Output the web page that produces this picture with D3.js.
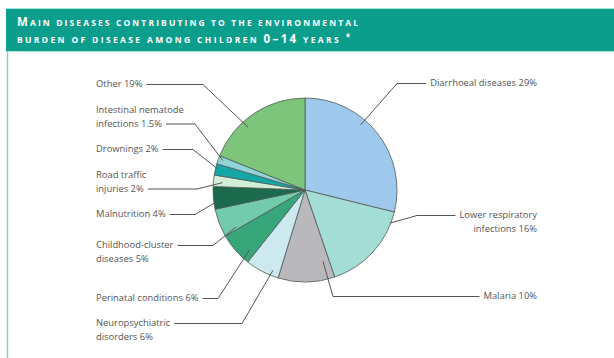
<!DOCTYPE html>
<html>
<head>
<meta charset="utf-8">
<script src="https://cdn.jsdelivr.net/npm/d3@7"></script>
<style>
  body { margin: 0; background: #fff; }
  svg { display: block; }
</style>
</head>
<body>
<div id="chart"></div>
<script>
// chart data, clockwise from 12 o'clock
const diseases = ["Diarrhoeal diseases", "Lower respiratory infections", "Malaria",
  "Neuropsychiatric disorders", "Perinatal conditions", "Childhood-cluster diseases",
  "Malnutrition", "Road traffic injuries", "Drownings",
  "Intestinal nematode infections", "Other"];
const shares = [29, 16, 10, 6, 6, 5, 4, 2, 2, 1.5, 19];
const sliceColors = ["#9ec9ec", "#a4dcd6", "#b9b9bd", "#cde9f0", "#37a67b", "#74caad",
  "#1c6a4e", "#d3eed7", "#13a8a5", "#90d4d9", "#7dc57b"];

// label text split in lines
const labelLines = [
  ["Diarrhoeal diseases 29%"],
  ["Lower respiratory", "infections 16%"],
  ["Malaria 10%"],
  ["Neuropsychiatric", "disorders 6%"],
  ["Perinatal conditions 6%"],
  ["Childhood-cluster", "diseases 5%"],
  ["Malnutrition 4%"],
  ["Road traffic", "injuries 2%"],
  ["Drownings 2%"],
  ["Intestinal nematode", "infections 1.5%"],
  ["Other 19%"]
];

// layout of labels: side, first baseline, line that carries the leader, elbow x,
// where the leader ends inside the slice (fraction of slice angle, fraction of radius)
const labelLayout = [
  { side: "right", y: 86,  lead: 0, elbow: 397, t: 0.39, k: 0.93 },
  { side: "right", y: 218, lead: 0, elbow: 417, t: 0.13, k: 0.99 },
  { side: "right", y: 299, lead: 0, elbow: 333, t: 0.13, k: 0.80 },
  { side: "left",  y: 326, lead: 0, elbow: 242, t: 0.22, k: 0.94 },
  { side: "left",  y: 301, lead: 0, elbow: 218, t: 0.20, k: 0.89 },
  { side: "left",  y: 248, lead: 0, elbow: 213, t: 0.10, k: 0.85 },
  { side: "left",  y: 217, lead: 0, elbow: 195, t: 0.30, k: 0.98 },
  { side: "left",  y: 178, lead: 1, elbow: 197, t: 0.40, k: 0.90 },
  { side: "left",  y: 152, lead: 0, elbow: 193, t: 0.60, k: 0.98 },
  { side: "left",  y: 113, lead: 1, elbow: 195, t: 0.60, k: 0.95 },
  { side: "left",  y: 87,  lead: 0, elbow: 203, t: 0.38, k: 0.92 }
];

const width = 614, height = 358;
const cx = 305, cy = 190, radius = 92;
const leftX = 96, rightX = 537, lineGap = 13.5;

const svg = d3.select("#chart").append("svg")
    .attr("width", width)
    .attr("height", height);

// header band
svg.append("rect")
    .attr("x", 6).attr("y", 8)
    .attr("width", width - 6).attr("height", 43)
    .attr("fill", "#0c9e8d");
svg.append("line")
    .attr("x1", 6).attr("x2", width).attr("y1", 8.5).attr("y2", 8.5)
    .attr("stroke", "#a8e6e0").attr("stroke-width", 1);
svg.append("line")
    .attr("x1", 6).attr("x2", width).attr("y1", 51.5).attr("y2", 51.5)
    .attr("stroke", "#a8e6e0").attr("stroke-width", 1);
svg.append("line")
    .attr("x1", 7.5).attr("x2", 7.5).attr("y1", 51).attr("y2", height)
    .attr("stroke", "#7fd0cf").attr("stroke-width", 1.5);

// title, small caps by hand
const title = svg.append("g")
    .attr("fill", "#fff")
    .style("font-family", "'Open Sans', 'DejaVu Sans', sans-serif")
    .style("font-weight", "bold");

const t1 = title.append("text").attr("x", 17).attr("y", 26)
    .attr("textLength", 341).attr("lengthAdjust", "spacing");
t1.append("tspan").style("font-size", "11.5px").text("M");
t1.append("tspan").style("font-size", "8.5px").text("AIN DISEASES CONTRIBUTING TO THE ENVIRONMENTAL");

const t2 = title.append("text").attr("x", 17).attr("y", 43)
    .attr("textLength", 333).attr("lengthAdjust", "spacing");
t2.append("tspan").style("font-size", "8.5px").text("BURDEN OF DISEASE AMONG CHILDREN ");
t2.append("tspan").style("font-size", "11.5px").text("0–14");
t2.append("tspan").style("font-size", "8.5px").text(" YEARS ");
t2.append("tspan").style("font-size", "8px").attr("dy", -3).text("*");

// pie
const rows = diseases.map((d, i) => ({ name: d, value: shares[i], color: sliceColors[i], lines: labelLines[i], lay: labelLayout[i] }));

const pie = d3.pie().value(d => d.value).sort(null);
const arc = d3.arc().innerRadius(0).outerRadius(radius);
const arcs = pie(rows);

const g = svg.append("g").attr("transform", `translate(${cx},${cy})`);

g.selectAll("path.slice")
    .data(arcs)
    .join("path")
    .attr("class", "slice")
    .attr("d", arc)
    .attr("fill", d => d.data.color)
    .attr("stroke", "#4e5a58")
    .attr("stroke-width", 0.8)
    .attr("stroke-linejoin", "round");

// labels
const labels = svg.append("g")
    .style("font-family", "'Open Sans', 'DejaVu Sans', sans-serif")
    .style("font-size", "9.4px")
    .attr("fill", "#555");

arcs.forEach(a => {
    const lay = a.data.lay;
    const right = lay.side === "right";
    const tx = right ? rightX : leftX;
    const text = labels.append("text")
        .attr("text-anchor", right ? "end" : "start");
    const spans = a.data.lines.map((ln, j) =>
        text.append("tspan").attr("x", tx).attr("y", lay.y + j * lineGap).text(ln));

    const leadSpan = spans[lay.lead].node();
    const w = leadSpan.getComputedTextLength();
    const ly = lay.y + lay.lead * lineGap - 2.5;
    const startX = right ? tx - w - 4 : tx + w + 4;

    const ang = a.startAngle + (a.endAngle - a.startAngle) * lay.t;
    const tipX = cx + Math.sin(ang) * radius * lay.k;
    const tipY = cy - Math.cos(ang) * radius * lay.k;

    svg.append("polyline")
        .attr("points", [[startX, ly], [lay.elbow, ly], [tipX, tipY]].map(p => p.join(",")).join(" "))
        .attr("fill", "none")
        .attr("stroke", "#555")
        .attr("stroke-width", 1);
});
</script>
</body>
</html>
